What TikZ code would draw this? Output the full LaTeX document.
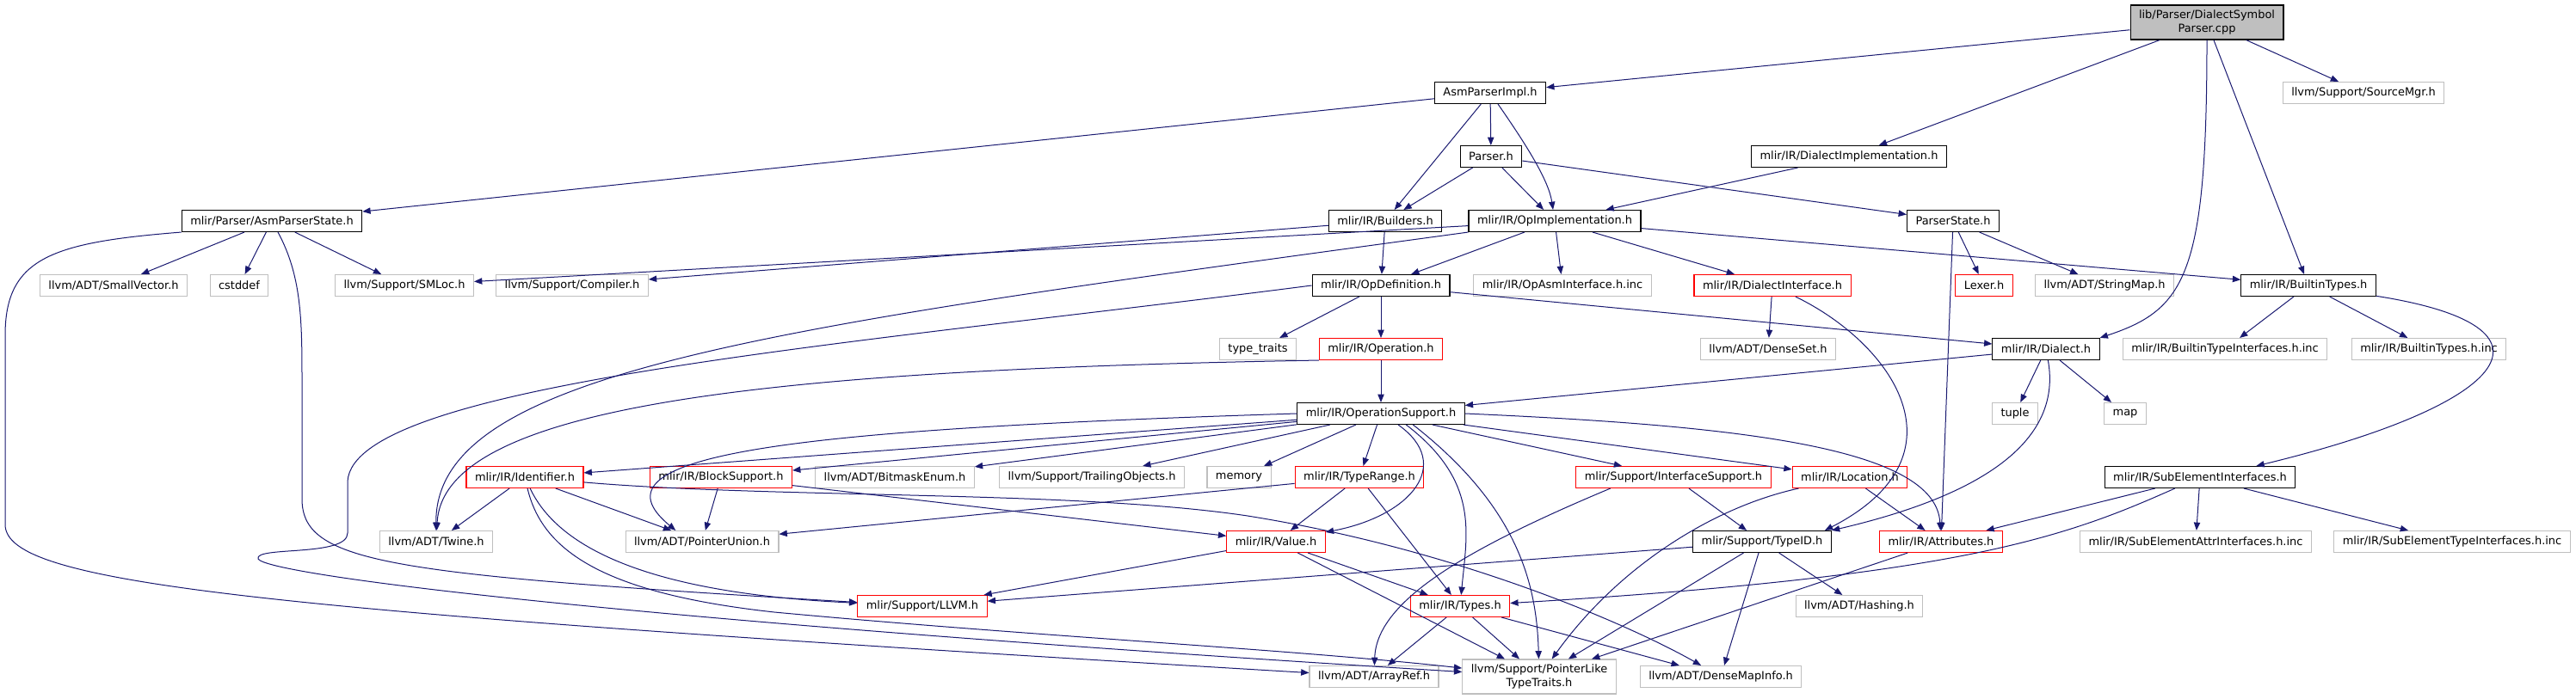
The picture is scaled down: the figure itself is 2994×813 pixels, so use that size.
\documentclass[tikz,border=0pt]{standalone}
\usepackage{fontspec}
\setmainfont{DejaVu Sans}
\usetikzlibrary{arrows.meta}
\definecolor{edgeblue}{RGB}{25, 25, 112}
\definecolor{extgray}{RGB}{191, 191, 191}

\begin{document}
\begin{tikzpicture}[x=0.75pt, y=-0.75pt,
  box/.style={rectangle, inner xsep=7.5pt, inner ysep=2pt,
              minimum height=18.75pt, line width=0.8pt,
              font=\fontsize{9.7}{11.5}\selectfont},
  hdr/.style={box, draw=black},
  ext/.style={box, draw=extgray},
  trunc/.style={box, draw=red},
  src/.style={box, draw=black, fill=extgray, align=center, minimum height=30pt},
  dep/.style={draw=edgeblue, line width=0.75pt,
              -{Triangle[length=7pt, width=5.5pt]}}]
  \useasboundingbox (0,0) rectangle (2994,813);

  %--- top rows ---
  \node[src] (root) at (2565,26) {lib/Parser/DialectSymbol\\Parser.cpp};
  \node[hdr] (asmimpl) at (1732,108) {AsmParserImpl.h};
  \node[ext] (sourcemgr) at (2747,108) {llvm/Support/SourceMgr.h};
  \node[hdr] (parser) at (1733,182) {Parser.h};
  \node[hdr] (dialimpl) at (2149,182) {mlir/IR/DialectImplementation.h};
  \node[hdr] (asmstate) at (316,257) {mlir/Parser/AsmParserState.h};
  \node[hdr] (builders) at (1610,257) {mlir/IR/Builders.h};
  \node[hdr] (opimpl) at (1807,257) {mlir/IR/OpImplementation.h};
  \node[hdr] (parserstate) at (2270,257) {ParserState.h};

  %--- row 332 ---
  \node[ext] (smallvec) at (132,332) {llvm/ADT/SmallVector.h};
  \node[ext] (cstddef) at (278,332) {cstddef};
  \node[ext] (smloc) at (470,332) {llvm/Support/SMLoc.h};
  \node[ext] (compiler) at (665,332) {llvm/Support/Compiler.h};
  \node[hdr] (opdef) at (1605,332) {mlir/IR/OpDefinition.h};
  \node[ext] (opasm) at (1816,332) {mlir/IR/OpAsmInterface.h.inc};
  \node[trunc] (dialiface) at (2060,332) {mlir/IR/DialectInterface.h};
  \node[trunc] (lexer) at (2306,332) {Lexer.h};
  \node[ext] (stringmap) at (2446,332) {llvm/ADT/StringMap.h};
  \node[hdr] (builtintypes) at (2683,332) {mlir/IR/BuiltinTypes.h};

  %--- row 406 ---
  \node[ext] (typetraits) at (1462,406) {type\_traits};
  \node[trunc] (operation) at (1605,406) {mlir/IR/Operation.h};
  \node[ext] (denseset) at (2055,406) {llvm/ADT/DenseSet.h};
  \node[hdr] (dialect) at (2378,406) {mlir/IR/Dialect.h};
  \node[ext] (btiface) at (2586,406) {mlir/IR/BuiltinTypeInterfaces.h.inc};
  \node[ext] (btinc) at (2823,406) {mlir/IR/BuiltinTypes.h.inc};

  %--- row 481 ---
  \node[hdr] (opsupport) at (1605,481) {mlir/IR/OperationSupport.h};
  \node[ext] (tuple) at (2342,481) {tuple};
  \node[ext] (map) at (2470,481) {map};

  %--- row 555 ---
  \node[trunc] (identifier) at (610,555) {mlir/IR/Identifier.h};
  \node[trunc] (blocksupp) at (838,555) {mlir/IR/BlockSupport.h};
  \node[ext] (bitmask) at (1040,555) {llvm/ADT/BitmaskEnum.h};
  \node[ext] (trailing) at (1269,555) {llvm/Support/TrailingObjects.h};
  \node[ext] (memory) at (1440,555) {memory};
  \node[trunc] (typerange) at (1580,555) {mlir/IR/TypeRange.h};
  \node[trunc] (ifacesupp) at (1945,555) {mlir/Support/InterfaceSupport.h};
  \node[trunc] (location) at (2150,555) {mlir/IR/Location.h};
  \node[hdr] (subelem) at (2557,555) {mlir/IR/SubElementInterfaces.h};

  %--- row 630 ---
  \node[ext] (twine) at (507,630) {llvm/ADT/Twine.h};
  \node[ext] (ptrunion) at (816,630) {llvm/ADT/PointerUnion.h};
  \node[trunc] (value) at (1483,630) {mlir/IR/Value.h};
  \node[hdr] (typeid) at (2048,630) {mlir/Support/TypeID.h};
  \node[trunc] (attributes) at (2256,630) {mlir/IR/Attributes.h};
  \node[ext] (subattr) at (2552,630) {mlir/IR/SubElementAttrInterfaces.h.inc};
  \node[ext] (subtype) at (2850,630) {mlir/IR/SubElementTypeInterfaces.h.inc};

  %--- bottom rows ---
  \node[trunc] (llvmh) at (1072,705) {mlir/Support/LLVM.h};
  \node[trunc] (types) at (1697,705) {mlir/IR/Types.h};
  \node[ext] (hashing) at (2161,705) {llvm/ADT/Hashing.h};
  \node[ext] (arrayref) at (1597,787) {llvm/ADT/ArrayRef.h};
  \node[ext, align=center, minimum height=30pt] (ptrlike) at (1789,787)
    {llvm/Support/PointerLike\\TypeTraits.h};
  \node[ext] (densemap) at (2000,787) {llvm/ADT/DenseMapInfo.h};

  %--- source file ---
  \draw[dep] (root) -- (asmimpl);
  \draw[dep] (root) -- (dialimpl);
  \draw[dep] (root) -- (sourcemgr);
  \draw[dep] (root) -- (builtintypes);
  \draw[dep] (root.south) .. controls (2565,320) and (2540,360) .. (dialect.north east);

  %--- AsmParserImpl.h, Parser.h, DialectImplementation.h ---
  \draw[dep] (asmimpl) -- (asmstate);
  \draw[dep] (asmimpl) -- (parser);
  \draw[dep] (asmimpl) -- (builders);
  \draw[dep] (asmimpl) .. controls (1775,170) and (1800,210) .. (opimpl);
  \draw[dep] (parser) -- (builders);
  \draw[dep] (parser) -- (opimpl);
  \draw[dep] (parser) -- (parserstate);
  \draw[dep] (dialimpl) -- (opimpl);

  %--- AsmParserState.h ---
  \draw[dep] (asmstate) -- (smallvec);
  \draw[dep] (asmstate) -- (cstddef);
  \draw[dep] (asmstate) -- (smloc);
  \draw[dep] (asmstate.south west) .. controls (60,282) and (6,300) .. (6,390)
    -- (6,610) .. controls (6,680) and (300,710) .. (arrayref);
  \draw[dep] (asmstate) .. controls (350,320) and (351,370) .. (351,440)
    -- (351,580) .. controls (351,655) and (450,668) .. (llvmh);

  %--- Builders.h, OpImplementation.h ---
  \draw[dep] (builders) -- (opdef);
  \draw[dep] (builders) -- (compiler);
  \draw[dep] (opimpl) -- (smloc);
  \draw[dep] (opimpl) -- (opdef);
  \draw[dep] (opimpl) -- (opasm);
  \draw[dep] (opimpl) -- (dialiface);
  \draw[dep] (opimpl) -- (builtintypes);
  \draw[dep] (opimpl.south west) .. controls (900,380) and (505,430) .. (twine);

  %--- OpDefinition.h, Operation.h ---
  \draw[dep] (opdef) -- (typetraits);
  \draw[dep] (opdef) -- (operation);
  \draw[dep] (opdef) -- (dialect);
  \draw[dep] (opdef.west) .. controls (1000,400) and (410,445) .. (404,560)
    -- (404,620) .. controls (404,648) and (295,635) .. (300,650)
    .. controls (310,668) and (700,720) .. (ptrlike);
  \draw[dep] (operation) -- (opsupport);
  \draw[dep] (operation.south west) .. controls (900,430) and (515,470) .. (twine);

  %--- ParserState.h, DialectInterface.h, BuiltinTypes.h ---
  \draw[dep] (parserstate) -- (lexer);
  \draw[dep] (parserstate) -- (stringmap);
  \draw[dep] (parserstate) -- (attributes);
  \draw[dep] (dialiface) -- (denseset);
  \draw[dep] (dialiface) .. controls (2200,400) and (2290,530) .. ([xshift=-6pt]typeid.north east);
  \draw[dep] (builtintypes) -- (btiface);
  \draw[dep] (builtintypes) -- (btinc);
  \draw[dep] (builtintypes) .. controls (2990,380) and (2920,470) .. ([xshift=49pt]subelem.north);

  %--- Dialect.h ---
  \draw[dep] (dialect) -- (opsupport);
  \draw[dep] (dialect) -- (tuple);
  \draw[dep] (dialect) -- (map);
  \draw[dep] (dialect) .. controls (2395,500) and (2330,570) .. (typeid.north east);

  %--- OperationSupport.h ---
  \draw[dep] (opsupport) -- (identifier);
  \draw[dep] (opsupport) -- (blocksupp);
  \draw[dep] (opsupport.west) .. controls (900,500) and (680,530) .. ([xshift=-23pt]ptrunion.north);
  \draw[dep] (opsupport) -- (bitmask);
  \draw[dep] (opsupport) -- (trailing);
  \draw[dep] (opsupport) -- (memory);
  \draw[dep] (opsupport) -- (typerange);
  \draw[dep] ([xshift=15pt]opsupport.south) .. controls (1690,540) and (1640,600) .. (value);
  \draw[dep] ([xshift=22pt]opsupport.south) .. controls (1720,560) and (1705,620) .. (types);
  \draw[dep] ([xshift=28pt]opsupport.south) .. controls (1765,590) and (1786,680) .. (ptrlike);
  \draw[dep] (opsupport) -- (ifacesupp);
  \draw[dep] (opsupport) -- (location);
  \draw[dep] (opsupport.east) .. controls (2020,495) and (2250,520) .. (attributes);

  %--- Identifier.h, BlockSupport.h, TypeRange.h ---
  \draw[dep] (identifier) -- (twine);
  \draw[dep] (identifier) -- (ptrunion);
  \draw[dep] (identifier) .. controls (650,640) and (760,690) .. (llvmh);
  \draw[dep] (identifier) .. controls (630,640) and (700,690) .. (900,712)
    .. controls (1200,740) and (1500,755) .. (ptrlike);
  \draw[dep] (identifier) .. controls (900,580) and (1250,570) .. (1450,600)
    .. controls (1700,640) and (1900,730) .. (densemap);
  \draw[dep] (blocksupp) -- (ptrunion);
  \draw[dep] (blocksupp) -- (value);
  \draw[dep] (typerange) -- (ptrunion);
  \draw[dep] (typerange) -- (value);
  \draw[dep] (typerange) -- (types);

  %--- InterfaceSupport.h, Location.h, SubElementInterfaces.h ---
  \draw[dep] (ifacesupp) -- (typeid);
  \draw[dep] ([xshift=-55pt]ifacesupp.south) .. controls (1700,640) and (1600,700) .. (arrayref);
  \draw[dep] (location) -- (attributes);
  \draw[dep] (location) .. controls (1990,590) and (1880,660) .. (ptrlike);
  \draw[dep] (subelem) -- (attributes);
  \draw[dep] (subelem) .. controls (2400,625) and (2280,670) .. (types);
  \draw[dep] (subelem) -- (subattr);
  \draw[dep] (subelem) -- (subtype);

  %--- Value.h, TypeID.h, Attributes.h, Types.h ---
  \draw[dep] (value) -- (llvmh);
  \draw[dep] (value) -- (types);
  \draw[dep] (value) -- (ptrlike);
  \draw[dep] (typeid) -- (llvmh);
  \draw[dep] (typeid) -- (ptrlike);
  \draw[dep] (typeid) -- (hashing);
  \draw[dep] (typeid) -- (densemap);
  \draw[dep] (attributes) -- (ptrlike);
  \draw[dep] (types) -- (arrayref);
  \draw[dep] (types) -- (ptrlike);
  \draw[dep] (types) -- (densemap);
\end{tikzpicture}
\end{document}
